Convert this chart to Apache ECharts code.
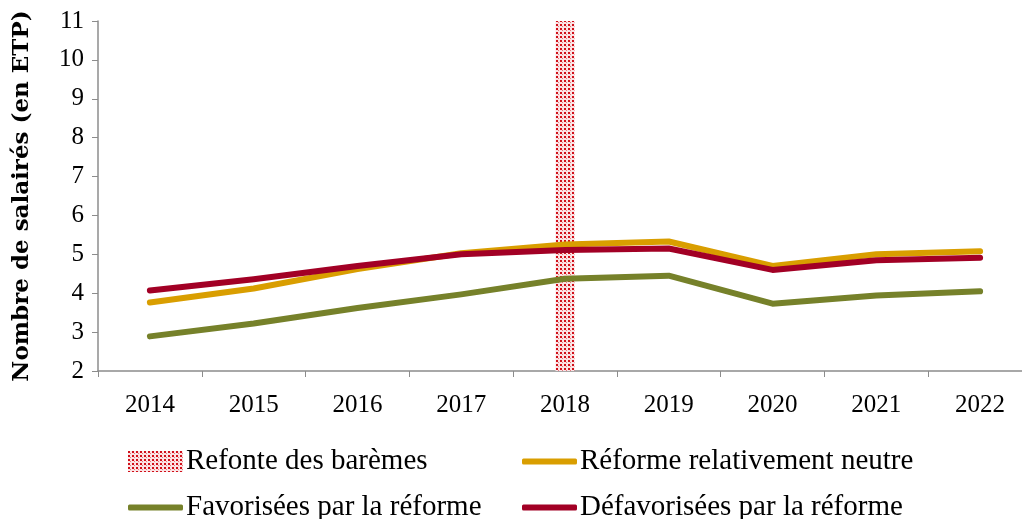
<!DOCTYPE html>
<html><head><meta charset="utf-8">
<script src="https://cdn.jsdelivr.net/npm/echarts@6/dist/echarts.min.js"></script>
<style>html,body{margin:0;padding:0;background:#fff;overflow:hidden}#c{width:1040px;height:519px}</style>
</head><body><div id="c"></div>
<script>
const years = ['2014','2015','2016','2017','2018','2019','2020','2021','2022'];
const refonte = [null,null,null,null,11,null,null,null,null];
const neutre = [3.76,4.12,4.62,5.03,5.25,5.33,4.7,5.0,5.08];
const favorisees = [2.89,3.22,3.62,3.97,4.37,4.45,3.73,3.94,4.05];
const defavorisees = [4.07,4.36,4.7,5.0,5.11,5.15,4.6,4.85,4.91];
const yTicks = [2,3,4,5,6,7,8,9,10,11];
const names = ['Refonte des barèmes','Réforme relativement neutre','Favorisées par la réforme','Défavorisées par la réforme'];

const tile = document.createElement('canvas');
tile.width = 4; tile.height = 4;
const tc = tile.getContext('2d');
tc.fillStyle = '#fbe3e4'; tc.fillRect(0,0,4,4);
tc.fillStyle = '#d0101a'; tc.fillRect(0,0,2,2);
tc.fillStyle = '#e87a80'; tc.fillRect(2,2,1,1);
const pattern = {image: tile, repeat: 'repeat'};

const serif = 'Liberation Serif';
const legFont = 'Liberation Serif';
function leg(name, left, top, icon, h) {
  return {data:[name], left:left, top:top, icon:icon, itemWidth:55, itemHeight:h, itemGap:0,
    textStyle:{fontFamily:legFont, fontSize:29, color:'#000', padding:[0,0,0,-2]}, padding:0};
}
const chart = echarts.init(document.getElementById('c'), null, {renderer:'canvas'});
chart.setOption({
  animation:false,
  grid:{left:98, right:8, top:21, bottom:148, containLabel:false},
  xAxis:{type:'category', data:years, boundaryGap:true,
    axisLine:{lineStyle:{color:'#8c8c8c', width:1.5}},
    axisTick:{show:true, length:6, alignWithLabel:false, lineStyle:{color:'#8c8c8c'}},
    axisLabel:{fontFamily:serif, fontSize:25, color:'#000', margin:22}},
  yAxis:{type:'value', min:2, max:11, interval:1,
    name:'Nombre de salairés (en ETP)', nameLocation:'middle', nameGap:64, nameRotate:90,
    nameTextStyle:{fontFamily:'DejaVu Serif', fontSize:23, fontWeight:'bold', color:'#000'},
    axisLine:{show:true, lineStyle:{color:'#8c8c8c', width:1.5}},
    axisTick:{show:true, length:6, lineStyle:{color:'#8c8c8c'}},
    splitLine:{show:false},
    axisLabel:{fontFamily:serif, fontSize:25, color:'#000', margin:14,
      formatter:v=>yTicks.includes(v)?String(v):''}},
  legend:[
    leg(names[0],128,447,'rect',21),
    leg(names[1],522,447,'roundRect',6),
    leg(names[2],128,493,'roundRect',6),
    leg(names[3],522,493,'roundRect',6)
  ],
  series:[
    {name:names[0], type:'bar', data:refonte, barWidth:19, barGap:'-100%',
      itemStyle:{color:pattern}},
    {name:names[1], type:'line', data:neutre, symbol:'none', smooth:false,
      lineStyle:{color:'#d99e00', width:6, cap:'round', join:'round'}, itemStyle:{color:'#d99e00'}},
    {name:names[2], type:'line', data:favorisees, symbol:'none',
      lineStyle:{color:'#76812a', width:6, cap:'round', join:'round'}, itemStyle:{color:'#76812a'}},
    {name:names[3], type:'line', data:defavorisees, symbol:'none',
      lineStyle:{color:'#a20025', width:6, cap:'round', join:'round'}, itemStyle:{color:'#a20025'}}
  ]
});
</script></body></html>
